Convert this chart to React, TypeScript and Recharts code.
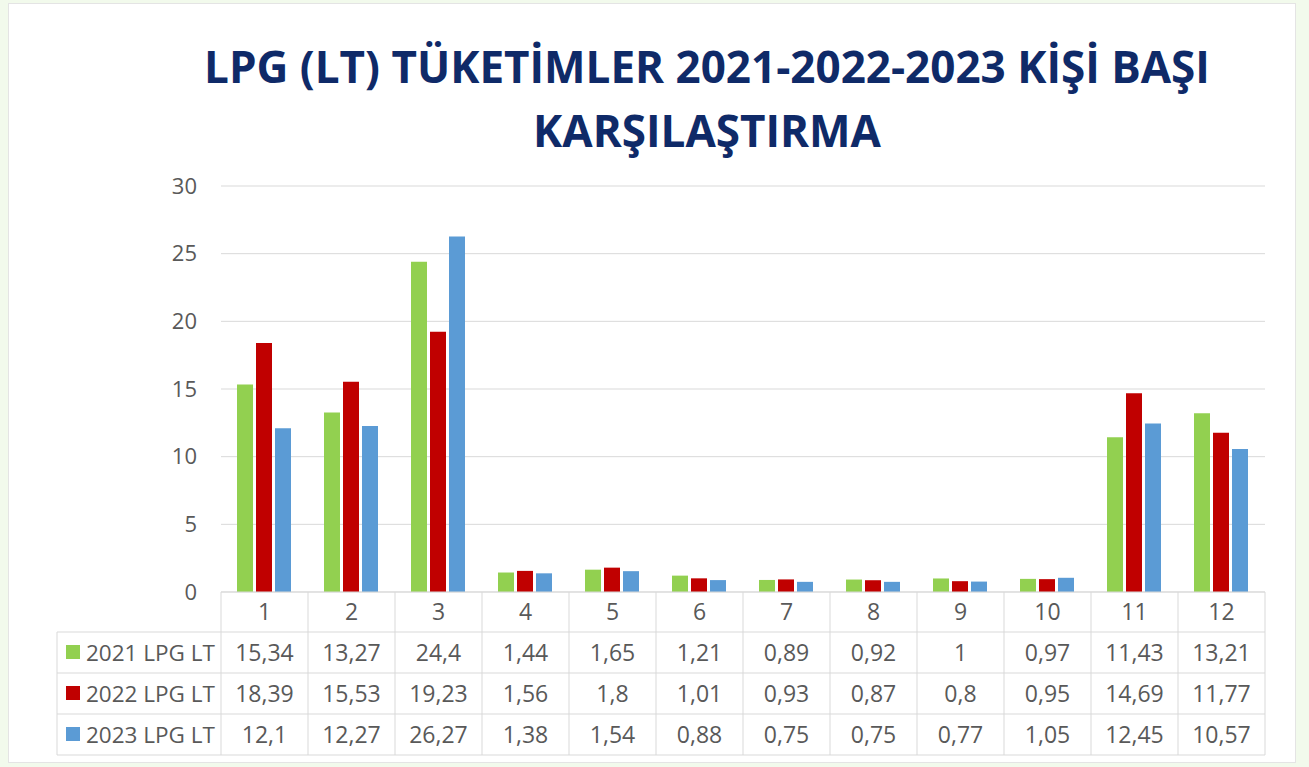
import React from "react";
import { BarChart, Bar, XAxis, YAxis, CartesianGrid } from "recharts";

const months = ["1", "2", "3", "4", "5", "6", "7", "8", "9", "10", "11", "12"];
const lpg2021 = [15.34, 13.27, 24.4, 1.44, 1.65, 1.21, 0.89, 0.92, 1, 0.97, 11.43, 13.21];
const lpg2022 = [18.39, 15.53, 19.23, 1.56, 1.8, 1.01, 0.93, 0.87, 0.8, 0.95, 14.69, 11.77];
const lpg2023 = [12.1, 12.27, 26.27, 1.38, 1.54, 0.88, 0.75, 0.75, 0.77, 1.05, 12.45, 10.57];
const seriesNames = ["2021 LPG LT", "2022 LPG LT", "2023 LPG LT"];
const seriesColors = ["#92d050", "#c00000", "#5b9bd5"];
const yTicks = [0, 5, 10, 15, 20, 25, 30];

const data = months.map((m, i) => ({
  month: m,
  a: lpg2021[i],
  b: lpg2022[i],
  c: lpg2023[i],
}));
const rows = [lpg2021, lpg2022, lpg2023];

const TEXT = "#595959";
const LINE = "#d9d9d9";
const FONT = "'Open Sans', sans-serif";
const ROW_H = 41;
const HEAD_H = 40;
const TABLE_LEFT = 57;

const fmt = (v: number) => String(v).replace(".", ",");

// the data table under the axis, drawn cell by cell from the x-axis ticks
const TableTick = (props: any) => {
  const { x, y, index, payload } = props;
  const bw = 87;
  const left = x - bw / 2;
  const right = x + bw / 2;
  const bottom = y + HEAD_H + ROW_H * 3;
  return (
    <g>
      <line x1={left} x2={left} y1={y} y2={bottom} stroke={LINE} />
      {index === months.length - 1 && (
        <line x1={right} x2={right} y1={y} y2={bottom} stroke={LINE} />
      )}
      <text x={x} y={y + HEAD_H / 2 + 8} textAnchor="middle" fill={TEXT} fontSize={23} fontFamily={FONT}>
        {payload.value}
      </text>
      {rows.map((r, ri) => {
        const top = y + HEAD_H + ROW_H * ri;
        return (
          <g key={ri}>
            <line x1={left} x2={right} y1={top} y2={top} stroke={LINE} />
            <text x={x} y={top + ROW_H / 2 + 8} textAnchor="middle" fill={TEXT} fontSize={23} fontFamily={FONT}>
              {fmt(r[index])}
            </text>
          </g>
        );
      })}
      <line x1={left} x2={right} y1={bottom} y2={bottom} stroke={LINE} />
      {index === 0 && (
        <g>
          <line x1={TABLE_LEFT} x2={TABLE_LEFT} y1={y + HEAD_H} y2={bottom} stroke={LINE} />
          {seriesNames.map((n, ri) => {
            const top = y + HEAD_H + ROW_H * ri;
            return (
              <g key={n}>
                <line x1={TABLE_LEFT} x2={left} y1={top} y2={top} stroke={LINE} />
                <rect x={66} y={top + 13} width={14} height={14} fill={seriesColors[ri]} />
                <text x={86} y={top + ROW_H / 2 + 8} fill={TEXT} fontSize={22.5} fontFamily={FONT}>
                  {n}
                </text>
              </g>
            );
          })}
          <line x1={TABLE_LEFT} x2={left} y1={bottom} y2={bottom} stroke={LINE} />
        </g>
      )}
    </g>
  );
};

export default function App() {
  return (
    <div style={{ position: "absolute", left: 0, top: 0, width: 1309, height: 767, background: "#f2faec" }}>
      <div
        style={{
          position: "absolute",
          left: 8,
          top: 3,
          width: 1286,
          height: 758,
          background: "#ffffff",
          border: "1px solid #e4e4e4",
        }}
      />
      <div
        style={{
          position: "absolute",
          left: 0,
          top: 34,
          width: 1414,
          textAlign: "center",
          fontFamily: FONT,
          fontWeight: 700,
          fontSize: 44,
          lineHeight: "64px",
          color: "#0f2a68",
          whiteSpace: "nowrap",
        }}
      >
        LPG (LT) TÜKETİMLER 2021-2022-2023 KİŞİ BAŞI
        <br />
        KARŞILAŞTIRMA
      </div>
      <div style={{ position: "absolute", left: 0, top: 0 }}>
        <BarChart
          width={1309}
          height={767}
          data={data}
          margin={{ top: 186, right: 44, left: 161, bottom: 12 }}
          barCategoryGap={16}
          barGap={3}
        >
          <CartesianGrid vertical={false} stroke={LINE} />
          <XAxis
            dataKey="month"
            height={163}
            interval={0}
            tickSize={0}
            tickMargin={0}
            tickLine={false}
            axisLine={{ stroke: LINE }}
            tick={<TableTick />}
          />
          <YAxis
            width={60}
            domain={[0, 30]}
            ticks={yTicks}
            axisLine={false}
            tickLine={false}
            tickSize={0}
            tickMargin={24}
            tick={{ fill: TEXT, fontSize: 22, fontFamily: FONT }}
          />
          <Bar dataKey="a" name={seriesNames[0]} fill={seriesColors[0]} isAnimationActive={false} />
          <Bar dataKey="b" name={seriesNames[1]} fill={seriesColors[1]} isAnimationActive={false} />
          <Bar dataKey="c" name={seriesNames[2]} fill={seriesColors[2]} isAnimationActive={false} />
        </BarChart>
      </div>
    </div>
  );
}
